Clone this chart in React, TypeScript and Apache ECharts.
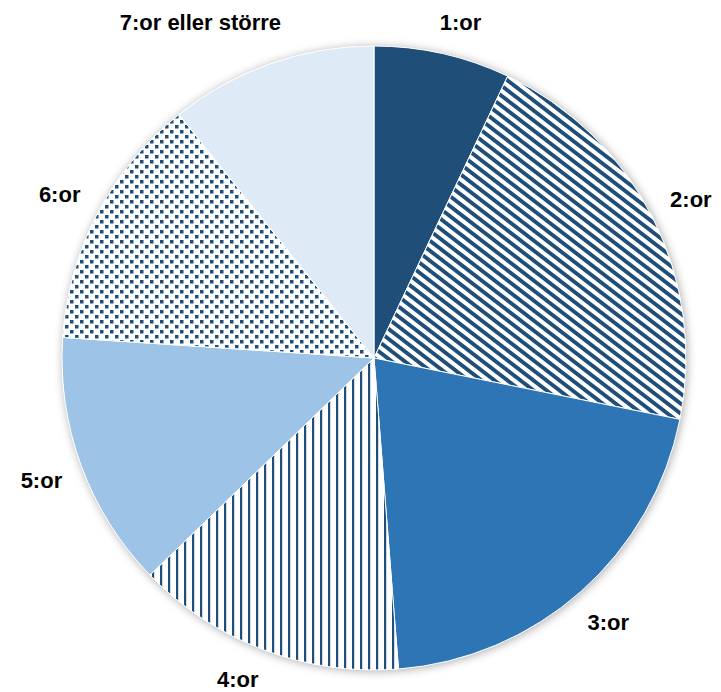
import React, { useEffect, useRef } from "react";
import * as echarts from "echarts";

// ---- data ----
const categories: string[] = ["1:or", "2:or", "3:or", "4:or", "5:or", "6:or", "7:or eller större"];
const values: number[] = [7.05, 21.1, 20.6, 14.0, 13.3, 13.2, 10.75];

// ---- styles ----
const DARK = "#1F4E79";
const fillKinds: string[] = ["solid:#1F4E79", "diag", "solid:#2E75B6", "vert", "solid:#9DC3E6", "dots", "solid:#DEEBF7"];

const W = 721;
const H = 692;
const CX = 374;
const CY = 358;
const R = 312;
const GAP = 19;
const YMIN = 22;
const YMAX = 680;
const FONT = "'Liberation Sans', Arial, sans-serif";

function makePattern(kind: string): any {
  if (kind.startsWith("solid:")) return kind.slice(6);
  const c = document.createElement("canvas");
  let w = 8;
  let h = 8;
  if (kind === "diag") {
    w = 13;
    h = 10;
  } else if (kind === "dots") {
    w = 10;
    h = 10;
  }
  c.width = w;
  c.height = h;
  const ctx = c.getContext("2d")!;
  ctx.fillStyle = "#ffffff";
  ctx.fillRect(0, 0, w, h);
  ctx.fillStyle = DARK;
  ctx.strokeStyle = DARK;
  if (kind === "diag") {
    ctx.lineWidth = 3.8;
    for (let k = -2; k <= 2; k++) {
      ctx.beginPath();
      ctx.moveTo(-w, -h + k * h);
      ctx.lineTo(2 * w, 2 * h + k * h);
      ctx.stroke();
    }
  } else if (kind === "vert") {
    ctx.fillRect(0, 0, 2.2, h);
  } else if (kind === "dots") {
    ctx.fillRect(0, 0, 3.5, 3.5);
    ctx.fillRect(5, 5, 3.5, 3.5);
  }
  return { image: c, repeat: "repeat" };
}

export default function App() {
  const ref = useRef<HTMLDivElement>(null);
  useEffect(() => {
    if (!ref.current) return;
    const chart = echarts.init(ref.current, null, { renderer: "svg" });
    const total = values.reduce((a, b) => a + b, 0);
    const starts: number[] = [];
    let acc = 0;
    values.forEach((v) => {
      starts.push(acc);
      acc += v;
    });

    const labelLayout = (p: any) => {
      const i = p.dataIndex;
      const w = p.labelRect ? p.labelRect.width : 40;
      const hh = 11;
      const mid = ((starts[i] + values[i] / 2) / total) * 360;
      const right = mid < 180;
      const place = (a: number) => {
        const r = (a * Math.PI) / 180;
        const ux = Math.sin(r);
        const uy = -Math.cos(r);
        const d = R + GAP + Math.abs(ux) * (w / 2) + Math.abs(uy) * hh;
        return { x: CX + ux * d, y: CY + uy * d };
      };
      let a = mid;
      let pos = place(a);
      for (let k = 0; k < 400 && (pos.y < YMIN || pos.y > YMAX); k++) {
        const towardTop = pos.y < YMIN;
        const step = 0.25;
        if (towardTop) a += right ? step : -step;
        else a += right ? -step : step;
        pos = place(a);
      }
      return { x: pos.x, y: pos.y, align: "center", verticalAlign: "middle" };
    };

    chart.setOption({
      animation: false,
      backgroundColor: "#ffffff",
      series: [
        {
          type: "pie",
          silent: true,
          z: 1,
          center: [CX, CY],
          radius: R,
          label: { show: false },
          labelLine: { show: false },
          itemStyle: {
            color: "#ffffff",
            shadowBlur: 10,
            shadowColor: "rgba(0,0,0,0.35)",
            shadowOffsetX: 1,
            shadowOffsetY: 1,
          },
          data: [{ value: 1, name: "" }],
        },
        {
          type: "pie",
          z: 2,
          center: [CX, CY],
          radius: R,
          startAngle: 90,
          clockwise: true,
          avoidLabelOverlap: false,
          itemStyle: { borderColor: "#ffffff", borderWidth: 1 },
          label: {
            show: true,
            position: "outside",
            formatter: "{b}",
            fontFamily: FONT,
            fontWeight: "bold",
            fontSize: 22,
            color: "#000000",
          },
          labelLine: { show: false },
          labelLayout,
          emphasis: { disabled: true },
          data: categories.map((name, i) => ({
            name,
            value: values[i],
            itemStyle: { color: makePattern(fillKinds[i]) },
          })),
        },
      ],
    });
    return () => chart.dispose();
  }, []);
  return (
    <div
      ref={ref}
      style={{ position: "fixed", left: 0, top: 0, width: W, height: H, background: "#fff" }}
    />
  );
}
